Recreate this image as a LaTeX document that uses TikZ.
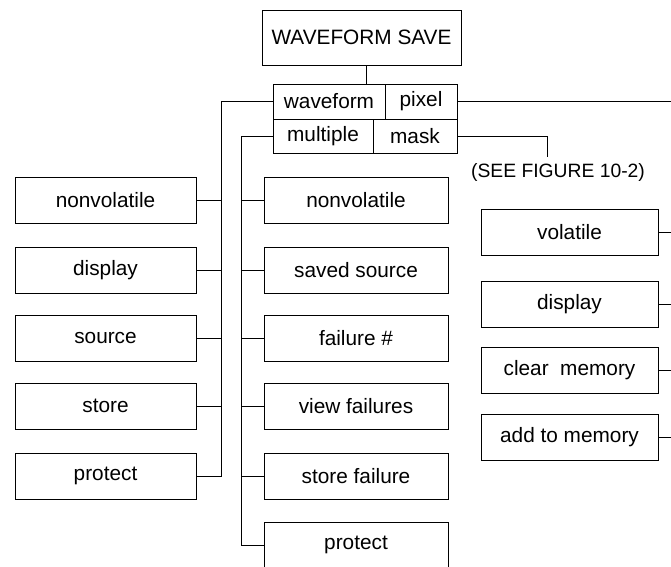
\documentclass[tikz,border=0pt]{standalone}
\usepackage{fontspec}
\setmainfont{Liberation Sans}
\usepackage{xcolor}

\tikzset{
  menubox/.style={draw, line width=0.8pt, inner sep=0pt, minimum height=46pt, font=\fontsize{20.8}{24}\selectfont},
  leftbox/.style={menubox, minimum width=181pt},
  midbox/.style={menubox, minimum width=184pt},
  rightbox/.style={menubox, minimum width=177pt},
  link/.style={line width=0.8pt}
}

\begin{document}
\begin{tikzpicture}[x=1pt, y=-1pt]
        \useasboundingbox (0,0) rectangle (671,566);
        \clip (0,0) rectangle (671,566);

        % Title and the four-way menu
        \node[draw, line width=0.8pt, minimum width=199pt, minimum height=55pt, font=\fontsize{20.8}{24}\selectfont] (title) at (361.5, 37.5) {WAVEFORM SAVE};
        \node[menubox, minimum width=112pt, minimum height=35pt] (wf)  at (329, 101.5) {waveform};
        \node[menubox, minimum width=72pt,  minimum height=35pt] (px)  at (421, 101.5) {pixel};
        \node[menubox, minimum width=100pt, minimum height=34pt] (mul) at (323, 136) {multiple};
        \node[menubox, minimum width=84pt,  minimum height=34pt] (msk) at (415, 136) {mask};

        % Left column (waveform)
        \node[leftbox] (lnv)  at (105.5, 200) {nonvolatile};
        \node[leftbox] (ldsp) at (105.5, 270) {display};
        \node[leftbox] (lsrc) at (105.5, 338) {source};
        \node[leftbox] (lsto) at (105.5, 406) {store};
        \node[leftbox] (lpro) at (105.5, 476) {protect};

        % Middle column (multiple)
        \node[midbox] (mnv)  at (356, 200) {nonvolatile};
        \node[midbox] (msrc) at (356, 270) {saved source};
        \node[midbox] (mfn)  at (356, 338) {failure \#};
        \node[midbox] (mvf)  at (356, 406) {view failures};
        \node[midbox] (msf)  at (356, 476) {store failure};
        \node[midbox] (mpro) at (356, 545) {protect};

        % Right column (pixel)
        \node[rightbox] (rvol) at (569.5, 232) {volatile};
        \node[rightbox] (rdsp) at (569.5, 304) {display};
        \node[rightbox] (rclr) at (569.5, 370) {clear\ \ memory};
        \node[rightbox] (radd) at (569.5, 437) {add to memory};

        % Bus lines and free ends
        \coordinate (stem) at (366, 84);
        \coordinate (lbus) at (221, 476);
        \coordinate (mbus) at (241, 545);
        \coordinate (see) at (547, 157);
        \coordinate (pxend) at (671, 101.5);
        \node[font=\fontsize{19.3}{22}\selectfont, inner sep=0pt] (seefig) at (558, 172) {(SEE FIGURE 10-2)};

        % Draw connectors
        \draw[link] (title.south -| stem) -- (stem);
        \draw[link] (px.east) -- (pxend);
        \draw[link] (msk.east) -| (see);

        \draw[link] (wf.west) -| (lbus) -- (lpro.east);
        \draw[link] (lnv.east)  -- (lnv.east -| lbus);
        \draw[link] (ldsp.east) -- (ldsp.east -| lbus);
        \draw[link] (lsrc.east) -- (lsrc.east -| lbus);
        \draw[link] (lsto.east) -- (lsto.east -| lbus);

        \draw[link] (mul.west) -| (mbus) -- (mpro.west);
        \draw[link] (mnv.west)  -- (mnv.west -| mbus);
        \draw[link] (msrc.west) -- (msrc.west -| mbus);
        \draw[link] (mfn.west)  -- (mfn.west -| mbus);
        \draw[link] (mvf.west)  -- (mvf.west -| mbus);
        \draw[link] (msf.west)  -- (msf.west -| mbus);

        \draw[link] (rvol.east) -- (rvol.east -| pxend);
        \draw[link] (rdsp.east) -- (rdsp.east -| pxend);
        \draw[link] (rclr.east) -- (rclr.east -| pxend);
        \draw[link] (radd.east) -- (radd.east -| pxend);
\end{tikzpicture}
\end{document}
